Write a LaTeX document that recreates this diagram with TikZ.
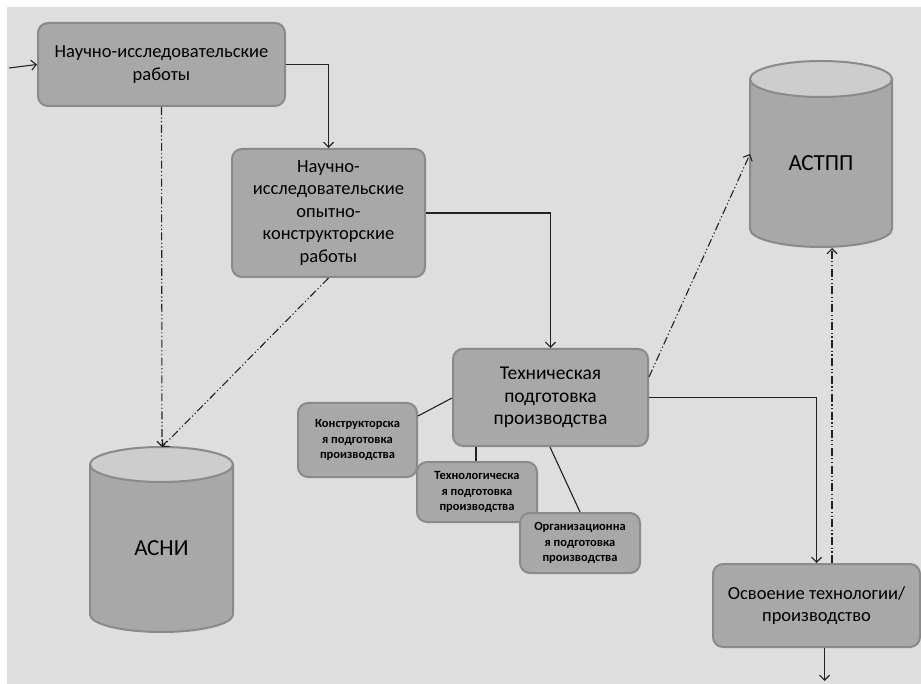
\documentclass[tikz,border=0pt]{standalone}
\usepackage{fontspec}
\setmainfont{Carlito}
\usetikzlibrary{arrows.meta}
\definecolor{bgc}{HTML}{DEDEDE}
\definecolor{boxf}{HTML}{A8A8A8}
\definecolor{boxd}{HTML}{8A8A8A}
\definecolor{cylend}{HTML}{CDCDCD}
\definecolor{linec}{HTML}{222222}
\tikzset{
  procbox/.style={draw=boxd, line width=2pt, fill=boxf, rounded corners=10pt, align=center, inner sep=0pt, text=black},
  bigtext/.style={font=\fontsize{18.5}{22.5}\selectfont},
  smalltext/.style={font=\bfseries\fontsize{12.5}{15.5}\selectfont},
  cyltext/.style={font=\fontsize{23}{27}\selectfont, inner sep=0pt},
  cylbody/.style={draw=boxd, line width=2pt, fill=boxf},
  cyltop/.style={draw=boxd, line width=2pt, fill=cylend},
  flow/.style={draw=linec, line width=1.1pt, -{Straight Barb[length=5pt,width=10pt]}},
  plain/.style={draw=linec, line width=1.1pt},
  info/.style={draw=linec, line width=1.1pt, dash pattern=on 8pt off 2.5pt on 1.2pt off 2.5pt on 1.2pt off 2.5pt, -{Straight Barb[length=5pt,width=10pt]}}
}
\begin{document}
\begin{tikzpicture}[x=1pt,y=-1pt]
\useasboundingbox (0,0) rectangle (921,684);
\fill[white] (0,0) rectangle (921,684);
\fill[bgc] (7,7) rectangle (922,685);

% cylinders
\draw[cylbody] (90,464.5) -- (90,614.5) arc[start angle=180,end angle=360,x radius=71.5pt,y radius=17.5pt] -- (233,464.5) -- cycle;
\draw[cyltop] (161.5,464.5) ellipse[x radius=71.5pt, y radius=17.5pt];
\node[cyltext] (asni) at (161.5,548) {АСНИ};
\coordinate (asnitop) at (162,447);

\draw[cylbody] (750,79) -- (750,229) arc[start angle=180,end angle=360,x radius=71pt,y radius=18pt] -- (892,79) -- cycle;
\draw[cyltop] (821,79) ellipse[x radius=71pt, y radius=18pt];
\node[cyltext] (astpp) at (821,163) {АСТПП};
\coordinate (astppleft) at (750,154);
\coordinate (astppbot) at (832,248);

% boxes
\node[procbox, bigtext, minimum width=247pt, minimum height=83pt] (nir) at (161.5,64.5) {Научно-исследовательские\\работы};
\node[procbox, bigtext, minimum width=193pt, minimum height=128pt] (niokr) at (328.5,213) {Научно-\\исследовательские\\опытно-\\конструкторские\\работы};
\node[procbox, minimum width=195pt, minimum height=97pt, font=\fontsize{19.5}{22.5}\selectfont] (tech) at (550.5,397.5) {Техническая\\подготовка\\производства};
\node[procbox, smalltext, minimum width=119pt, minimum height=74pt] (konstr) at (357.5,440) {Конструкторска\\я подготовка\\производства};
\node[procbox, smalltext, minimum width=120pt, minimum height=60pt] (technol) at (477,492) {Технологическа\\я подготовка\\производства};
\node[procbox, smalltext, minimum width=120pt, minimum height=60pt] (org) at (580,543) {Организационна\\я подготовка\\производства};
\node[procbox, bigtext, minimum width=207pt, minimum height=83pt] (osv) at (816.5,605.5) {Освоение технологии/\\производство};

% connectors
\coordinate (inpt) at (9,68);
\coordinate (outp) at (824.5,681);
\draw[flow] (inpt) -- (nir.west);
\draw[flow] (nir.east) -| (niokr.north);
\draw[flow] (niokr.east) -| (tech.north);
\draw[flow] (tech.east) -| (osv.north);
\draw[flow] (osv.south -| outp) -- (outp);

\draw[plain] (konstr.east |- 0,416) -- (tech.west |- 0,398);
\draw[plain] (tech.south -| 476,0) -- (technol.north -| 476,0);
\draw[plain] (tech.south -| 550,0) -- (org.north -| 580,0);

\draw[info] (nir.south) -- (asnitop);
\draw[info] (niokr.south) -- (asnitop);
\draw[info] ([yshift=-29pt]tech.north east) -- (astppleft);
\draw[info] (osv.north -| astppbot) -- (astppbot);
\end{tikzpicture}
\end{document}
